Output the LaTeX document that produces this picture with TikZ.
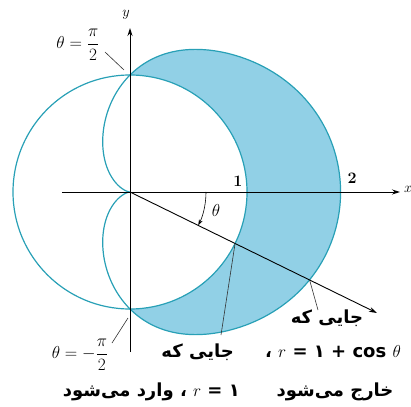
\documentclass[tikz,border=0pt]{standalone}
\usepackage{fontspec}
\usepackage{amsmath}
\newfontfamily\fa[Script=Arabic,BoldFont=DejaVu Sans Bold]{DejaVu Sans}
\TeXXeTstate=1
\usetikzlibrary{arrows.meta}
\definecolor{cline}{RGB}{40,160,182}
\definecolor{cfill}{RGB}{145,208,230}
\begin{document}
\begin{tikzpicture}[x=1pt,y=1pt,
  declare function={sq(\a)=sin(\a)*sin(\a);
    gg(\a)=0.9+0.1*sq(\a)*sq(\a)*sq(\a)*sq(\a);
    rr(\a)=117*(1+cos(\a))*gg(\a);},
  curve/.style={draw=cline,line width=1.2pt},
  axis/.style={draw=black,line width=0.9pt,-{Stealth[length=8pt,width=5pt]}},
  lead/.style={draw=black!80,line width=0.6pt},
  lab/.style={inner sep=0pt,font=\bfseries\fontsize{16}{18}\selectfont},
  fatxt/.style={inner sep=0pt,font=\fa\bfseries\fontsize{18}{20}\selectfont}]
\useasboundingbox (-130,-214) rectangle (281,192);
% shaded region
\fill[cfill] plot[domain=-90:90,samples=120,variable=\u]
  ({rr(\u)*cos(\u)},{rr(\u)*sin(\u)})
  arc[start angle=90,end angle=-90,radius=117] -- cycle;
% curves
\draw[curve] (0,0) circle[radius=117];
\draw[curve] plot[domain=-180:180,samples=240,variable=\u]
  ({rr(\u)*cos(\u)},{rr(\u)*sin(\u)});
% key points
\coordinate (O) at (0,0);
\coordinate (P1) at (-26.1:117);
\coordinate (P2) at (-26.1:200);
\coordinate (xL) at (-68,0);
\coordinate (xR) at (270,0);
\coordinate (yB) at (0,-160);
\coordinate (yT) at (0,164);
\coordinate (R) at (-26.1:275);
% axes
\draw[axis] (xL) -- (xR);
\draw[axis] (yB) -- (yT);
\draw[axis] (O) -- (R);
\draw[line width=0.6pt,-{Stealth[length=6pt,width=4pt]}] (76,0) arc[start angle=0,end angle=-26.1,radius=76];
% labels
\node[lab,font=\fontsize{14}{16}\selectfont,anchor=west] (lx) at (274,3) {$x$};
\node[lab,font=\fontsize{14}{16}\selectfont] (ly) at (-4,177) {$y$};
\node[lab] (l1) at (108,11) {1};
\node[lab] (l2) at (222,14) {2};
\node[lab] (lth) at (86,-18) {$\theta$};
\node[lab] (tp) at (-52,147) {$\theta=\dfrac{\pi}{2}$};
\node[lab] (tm) at (-50,-163) {$\theta=-\dfrac{\pi}{2}$};
\coordinate (a1) at (-25,140);
\coordinate (a1e) at (-6,122);
\coordinate (a2) at (-18,-151);
\coordinate (a2e) at (-2,-126);
\draw[lead] (a1) -- (a1e);
\draw[lead] (a2) -- (a2e);
% persian labels
\node[fatxt,anchor=east] (L1) at (104,-160) {\beginR جایی که\endR};
\node[fatxt,anchor=east] (L2) at (110,-200) {\beginR\beginL$r$ = ۱\endL{} ، وارد می‌شود\endR};
\node[fatxt] (R1) at (197,-126) {\beginR جایی که\endR};
\node[fatxt] (R2) at (203,-160) {\beginR\beginL$r$ = ۱ + cos $\theta$\endL{} ،\endR};
\node[fatxt] (R3) at (205,-200) {\beginR خارج می‌شود\endR};
\coordinate (b1) at (91,-143);
\coordinate (b2) at (188,-118);
\draw[lead] (P1) -- (b1);
\draw[lead] (P2) -- (b2);
\end{tikzpicture}
\end{document}
